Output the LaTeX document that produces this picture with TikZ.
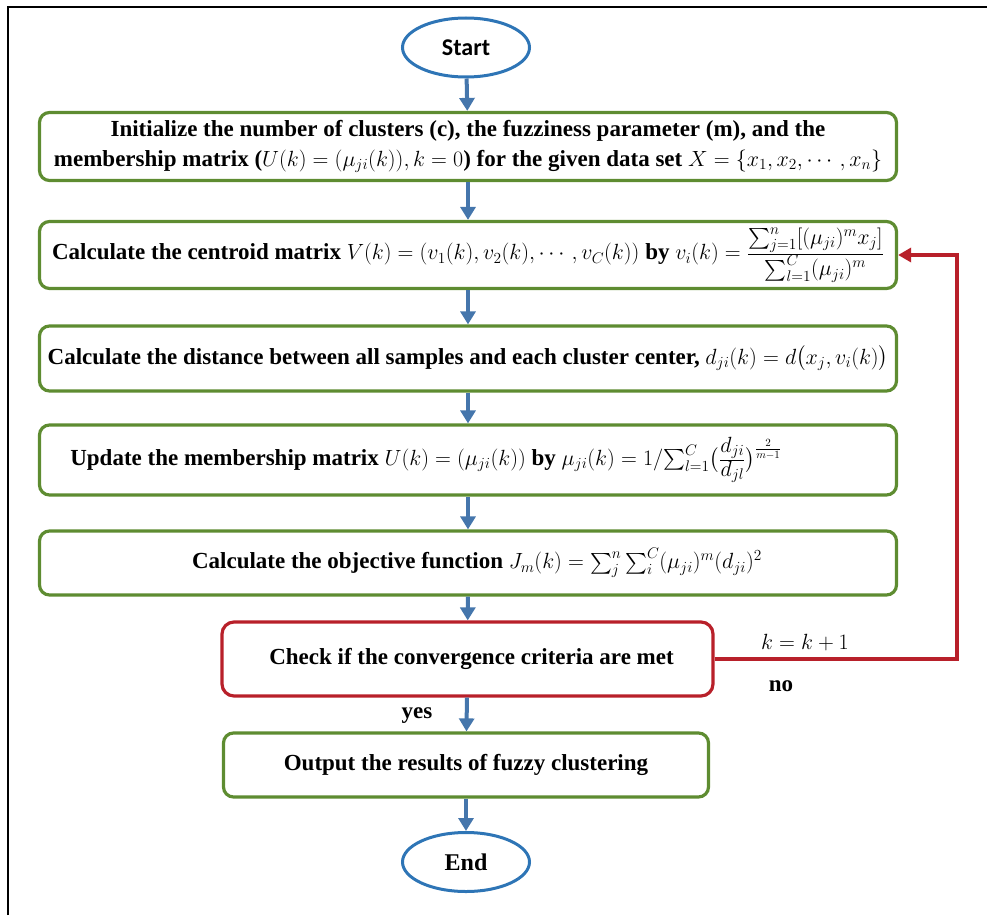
\RequirePackage{fix-cm}
\documentclass[tikz,border=0pt]{standalone}
\usepackage{amsmath}
\usepackage{fontspec}
\setmainfont{Liberation Serif}
\newfontfamily\calib{Carlito}
\usetikzlibrary{arrows.meta,shapes.geometric,calc}
\definecolor{gbord}{HTML}{5E8C31}
\definecolor{rbord}{HTML}{B8202A}
\definecolor{aflow}{HTML}{4576AC}
\definecolor{ebord}{HTML}{2E75B6}
\newcommand\mm[1]{{\fontsize{22}{26}\selectfont$#1$}}
\begin{document}
\begin{tikzpicture}[x=1pt,y=-1pt,
  txt/.style={font=\bfseries\fontsize{23}{30}\selectfont},
  gbox/.style={txt,draw=gbord,line width=3.2pt,rounded corners=10pt,minimum width=857pt,align=center,inner sep=0pt},
  rbox/.style={txt,draw=rbord,line width=3.2pt,rounded corners=12pt,align=center,inner sep=0pt},
  term/.style={ellipse,draw=ebord,line width=3pt,minimum width=127pt,minimum height=59pt,inner sep=0pt},
  flow/.style={draw=aflow,line width=4pt,-{Triangle[length=13pt,width=15pt]}},
  rline/.style={draw=rbord,line width=3.5pt,-{Triangle[length=13pt,width=14pt]}},
  lbl/.style={txt,inner sep=0pt}]
\useasboundingbox (0,0) rectangle (987,915);
\draw[line width=2pt] (8,915) -- (8,7) -- (987,7);

\node[term,font=\calib\bfseries\fontsize{24}{28}\selectfont] (start) at (466,47.5) {Start};
\node[gbox,minimum height=68pt] (b1) at (468,146.5)
  {Initialize the number of clusters (c), the fuzziness parameter (m), and the\\
   membership matrix (\mm{U(k)=(\mu_{ji}(k)),k=0}) for the given data set \mm{X=\{x_1,x_2,\cdots,x_n\}}};
\node[gbox,minimum height=67pt] (b2) at (468,255)
  {Calculate the centroid matrix \mm{V(k)=(v_1(k),v_2(k),\cdots,v_C(k))} by \mm{v_i(k)=\frac{\textstyle\sum_{j=1}^{n}[(\mu_{ji})^m x_j]}{\textstyle\sum_{l=1}^{C}(\mu_{ji})^m}}};
\node[gbox,minimum height=65pt] (b3) at (468,358.5)
  {Calculate the distance between all samples and each cluster center, \mm{d_{ji}(k)=d\bigl(x_j,v_i(k)\bigr)}};
\node[gbox,minimum height=70pt] (b4) at (468,460)
  {Update the membership matrix \mm{U(k)=(\mu_{ji}(k))} by \mm{\mu_{ji}(k)=1/{\textstyle\sum_{l=1}^{C}}\bigl(\frac{\textstyle d_{ji}}{\textstyle d_{jl}}\bigr)^{\frac{2}{m-1}}}\hspace*{84pt}};
\node[gbox,minimum height=64pt] (b5) at (468,563)
  {\hspace*{18pt}Calculate the objective function \mm{J_m(k)=\sum_j^n\sum_i^C(\mu_{ji})^m(d_{ji})^2}};
\node[rbox,minimum width=491pt,minimum height=74pt] (chk) at (467.5,659)
  {\hspace*{8pt}Check if the convergence criteria are met};
\node[gbox,minimum width=485pt,minimum height=64pt] (out) at (466,765)
  {Output the results of fuzzy clustering};
\node[term,font=\bfseries\fontsize{24}{28}\selectfont] (end) at (466,862) {End};

\draw[flow] (start) -- (b1);
\draw[flow] (b1) -- (b2);
\draw[flow] (b2) -- (b3);
\draw[flow] (b3) -- (b4);
\draw[flow] (b4) -- (b5);
\draw[flow] (b5) -- (chk);
\draw[flow] (chk) -- (out);
\draw[flow] (out) -- (end);

\coordinate (rc) at (957,659);
\draw[rline] (chk.east) -- (chk.east -| rc) |- (b2.east);

\node[inner sep=0pt,font=\fontsize{22}{26}\selectfont] (kk) at (805,643) {$k=k+1$};
\node[lbl] (no) at (781,686) {no};
\node[lbl] (yes) at (417,716) {yes};
\end{tikzpicture}
\end{document}
